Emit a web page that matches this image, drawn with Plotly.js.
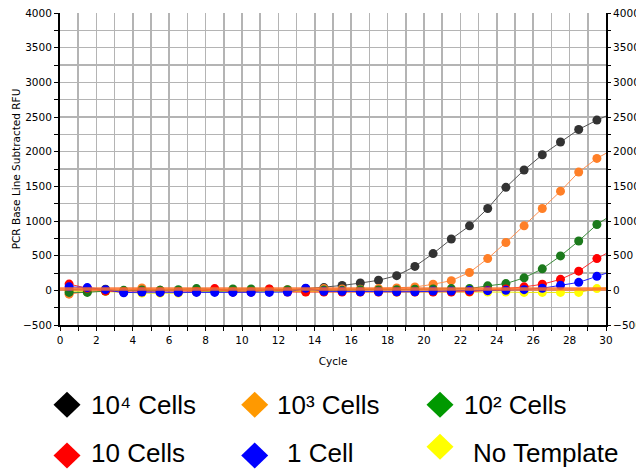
<!DOCTYPE html>
<html>
<head>
<meta charset="utf-8">
<script src="https://cdn.plot.ly/plotly-3.0.1.min.js"></script>
<style>html,body{margin:0;padding:0;background:#fff;}#chart{width:636px;height:471px;}</style>
</head>
<body>
<div id="chart"></div>
<script>
// ---- data ----
var cycles = [0.5,1.5,2.5,3.5,4.5,5.5,6.5,7.5,8.5,9.5,10.5,11.5,12.5,13.5,14.5,15.5,16.5,17.5,18.5,19.5,20.5,21.5,22.5,23.5,24.5,25.5,26.5,27.5,28.5,29.5,30.5];
var cells1e4 = [10,20,15,-10,5,0,-5,-15,-10,-5,-10,-5,0,25,40,70,105,145,212,345,530,740,930,1180,1485,1735,1955,2140,2320,2455,2570];
var cells1e3 = [-55,-20,0,-10,35,0,-10,10,0,5,-5,0,10,20,25,20,15,25,35,48,87,140,258,458,690,930,1180,1430,1705,1903,2050];
var cells1e2 = [-30,-30,-10,0,5,0,10,25,10,20,20,15,10,0,5,0,10,5,10,15,20,25,25,65,97,180,310,496,712,949,1120];
var cells10 = [90,30,-10,-25,-20,-25,-25,-20,25,-25,-25,20,-25,-25,-25,-25,-25,-25,-25,-25,-25,-25,-20,0,20,50,87,159,277,458,600];
var cells1 = [50,40,10,-35,-25,-30,-30,-30,-30,-30,-30,-30,-25,30,-15,-15,-20,-20,-20,-20,-10,-10,0,-5,0,10,30,72,115,202,290];
var noTemplate = [-10,-15,-15,-25,-40,-40,-40,-20,-15,-15,-20,-15,-15,-20,-20,-15,-20,-20,-25,-20,-20,-20,-25,-25,-25,-30,-30,-30,-30,25,40];
var thresholdX = [0, 30];
var thresholdY = [18, 18];

var seriesNames = ['10\u2074 Cells','10\u00b3 Cells','10\u00b2 Cells','10 Cells','1 Cell','No Template'];
var seriesValues = [cells1e4, cells1e3, cells1e2, cells10, cells1, noTemplate];
var xTickVals = [0,2,4,6,8,10,12,14,16,18,20,22,24,26,28,30];
var yTickVals = [-500,0,500,1000,1500,2000,2500,3000,3500,4000];

// ---- styles ----
var markerColors = ['#333333','#ff7f27','#1c7a1c','#ff0000','#0000ff','#ffff00'];
var lineColors = ['#555555','#ff9050','#3a8a3a','#ff3030','#2020ff','#e8e800'];
var legendColors = ['#000000','#ff9900','#009900','#ff0000','#0000ff','#ffff00'];
var drawOrder = [5,0,1,2,3,4];

var traces = [];
drawOrder.forEach(function(i){
  traces.push({
    x: cycles, y: seriesValues[i], type:'scatter', mode:'lines+markers',
    name: seriesNames[i], showlegend:false, hoverinfo:'skip',
    line:{color:lineColors[i], width:1},
    marker:{color:markerColors[i], size:9, line:{width:0}}
  });
});
traces.push({x: thresholdX, y: thresholdY, type:'scatter', mode:'lines', showlegend:false,
  hoverinfo:'skip', line:{color:'rgba(255,110,40,0.85)', width:3.5}});
// dummy trace for right axis
traces.push({x:[null], y:[null], yaxis:'y2', type:'scatter', mode:'markers', showlegend:false, hoverinfo:'skip'});

// plot area in pixels (for legend placement)
var L = 60, R = 606, T = 13, B = 325;
function px2x(p){ return (p - L)/(R - L); }
function px2y(p){ return (B - p)/(B - T); }

var colX = [67, 254.7, 440];
var textX = [[90.7, 277.3, 463.7],[90.7, 286.7, 472.7]];
var rowY = [[404.7,404.7,404.7],[455.5,455.5,446.7]];
var rowBase = [414, 463];

var shapes = [], annotations = [];
seriesNames.forEach(function(nm, i){
  var r = Math.floor(i/3), c = i%3;
  shapes.push({type:'path', xref:'paper', yref:'paper', xsizemode:'pixel', ysizemode:'pixel',
    xanchor: px2x(colX[c]), yanchor: px2y(rowY[r][c]),
    path:'M -13.5 0 L 0 13 L 13.5 0 L 0 -13 Z', fillcolor:legendColors[i], line:{width:0}});
  annotations.push({xref:'paper', yref:'paper', x: px2x(textX[r][c]-2), y: px2y(rowBase[r]+7.5),
    xanchor:'left', yanchor:'bottom', showarrow:false, text:nm,
    font:{family:'Liberation Sans, Arial, sans-serif', size:26, color:'#000'}});
});

var tickFont = {family:'DejaVu Sans, sans-serif', size:10.5, color:'#000'};
var gridColor = '#b4b4b4';
var layout = {
  width:636, height:471,
  margin:{l:L, r:636-R, t:T, b:471-B, pad:0},
  paper_bgcolor:'#fff', plot_bgcolor:'#fff',
  showlegend:false,
  xaxis:{range:[0,30], tickvals:xTickVals, ticks:'outside', ticklen:4, tickwidth:1, tickcolor:'#000',
    showline:true, linecolor:'#000', linewidth:2, showgrid:true, gridcolor:gridColor, gridwidth:1.5,
    zeroline:false, tickfont:tickFont,
    minor:{dtick:1, ticks:'outside', ticklen:4, tickcolor:'#000', showgrid:true, gridcolor:gridColor, gridwidth:1.5},
    title:{text:'Cycle', font:{family:'DejaVu Sans, sans-serif', size:10.5, color:'#000'}, standoff:13}},
  yaxis:{range:[-500,4000], tickvals:yTickVals, ticks:'outside', ticklen:4, tickwidth:1, tickcolor:'#000',
    showline:true, linecolor:'#000', linewidth:2, showgrid:true, gridcolor:gridColor, gridwidth:1.5,
    zeroline:false, tickfont:tickFont,
    minor:{dtick:250, ticks:'outside', ticklen:4, tickcolor:'#000', showgrid:true, gridcolor:gridColor, gridwidth:1.5},
    title:{text:'PCR Base Line Subtracted RFU', font:{family:'DejaVu Sans, sans-serif', size:10.5, color:'#000'}, standoff:0}},
  yaxis2:{range:[-500,4000], overlaying:'y', side:'right', tickvals:yTickVals, ticks:'outside', ticklen:3,
    tickcolor:'#000', showline:true, linecolor:'#000', linewidth:2, showgrid:false, zeroline:false,
    tickfont:tickFont, minor:{dtick:250, ticks:'outside', ticklen:3, tickcolor:'#000'}},
  shapes: shapes,
  annotations: annotations
};
Plotly.newPlot('chart', traces, layout, {staticPlot:true, displayModeBar:false});
</script>
</body>
</html>
